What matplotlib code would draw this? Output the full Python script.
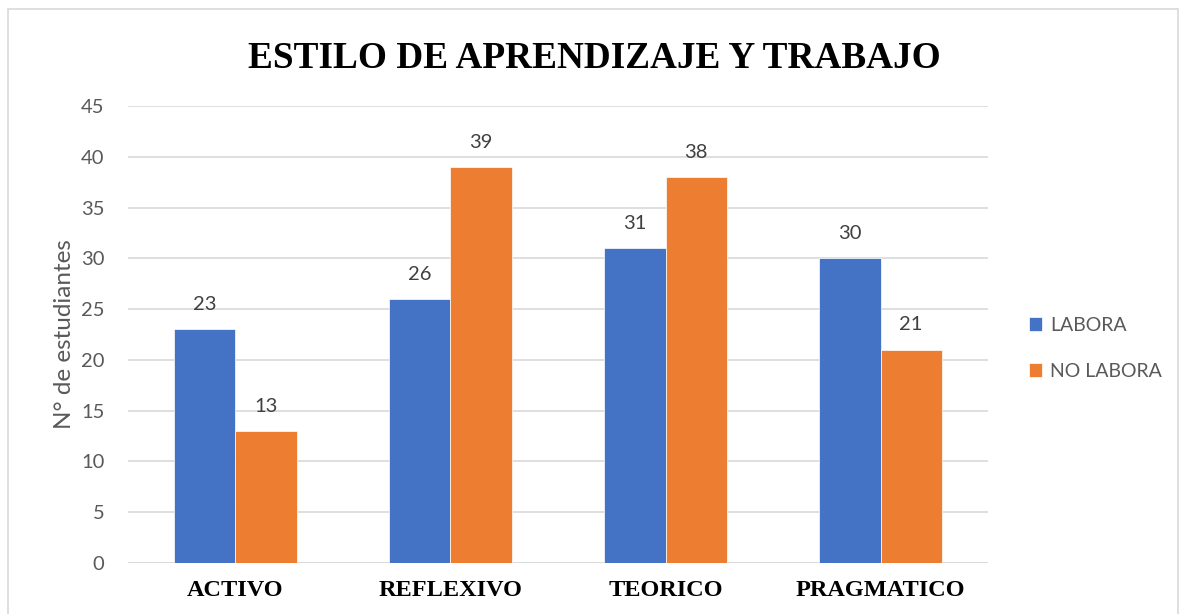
import matplotlib.pyplot as plt
import numpy as np
from matplotlib.patches import Rectangle

categories = ["ACTIVO", "REFLEXIVO", "TEORICO", "PRAGMATICO"]
labora = [23, 26, 31, 30]
no_labora = [13, 39, 38, 21]

blue = "#4472C4"
orange = "#ED7D31"
gray = "#595959"

fig = plt.figure(figsize=(11.88, 6.14), dpi=100)
ax = fig.add_axes([0.1077, 0.0831, 0.724, 0.7443])

# outer chart border
fig.patches.append(Rectangle((0.007, -0.01), 0.985, 0.995, transform=fig.transFigure,
                             fill=False, edgecolor="#D9D9D9", lw=1.2))

x = np.arange(len(categories))
w = 0.285
b1 = ax.bar(x - w / 2, labora, w, color=blue, label="LABORA", zorder=3,
            edgecolor="white", linewidth=0.5)
b2 = ax.bar(x + w / 2, no_labora, w, color=orange, label="NO LABORA", zorder=3,
            edgecolor="white", linewidth=0.5)

for bars in (b1, b2):
    for r in bars:
        ax.text(r.get_x() + r.get_width() / 2, r.get_height() + 1.6,
                str(int(r.get_height())), ha="center", va="bottom",
                fontsize=14.5, color="#404040", family="Lato")

ax.set_xlim(-0.5, 3.5)
ax.set_ylim(0, 45)
ax.set_yticks(range(0, 46, 5))
ax.yaxis.grid(True, color="#D9D9D9", lw=1.2, zorder=0)
ax.set_axisbelow(True)
for s in ax.spines.values():
    s.set_visible(False)
ax.tick_params(axis="both", length=0)
ax.tick_params(axis="y", pad=17, labelsize=14.5, labelcolor=gray)
for t in ax.get_yticklabels():
    t.set_family("Lato")
ax.set_xticks(x)
ax.set_xticklabels(categories, family="Liberation Serif", fontweight="bold",
                   fontsize=17.5, color="black")
ax.tick_params(axis="x", pad=12)
ax.axhline(0, color="#D9D9D9", lw=1.2, zorder=1)

ax.set_ylabel("N° de estudiantes", family="Lato", fontsize=17.5, color=gray, labelpad=4)

fig.text(0.5, 0.905, "ESTILO DE APRENDIZAJE Y TRABAJO", ha="center", va="center",
         family="Liberation Serif", fontweight="bold", fontsize=26.8, color="black")

leg = ax.legend(loc="center left", bbox_to_anchor=(1.027, 0.47), frameon=False,
                prop={"family": "Lato", "size": 14}, handlelength=0.7,
                handleheight=0.7, handletextpad=0.4, labelspacing=1.5)
for t in leg.get_texts():
    t.set_color(gray)

fig.savefig("out.png", dpi=100)
